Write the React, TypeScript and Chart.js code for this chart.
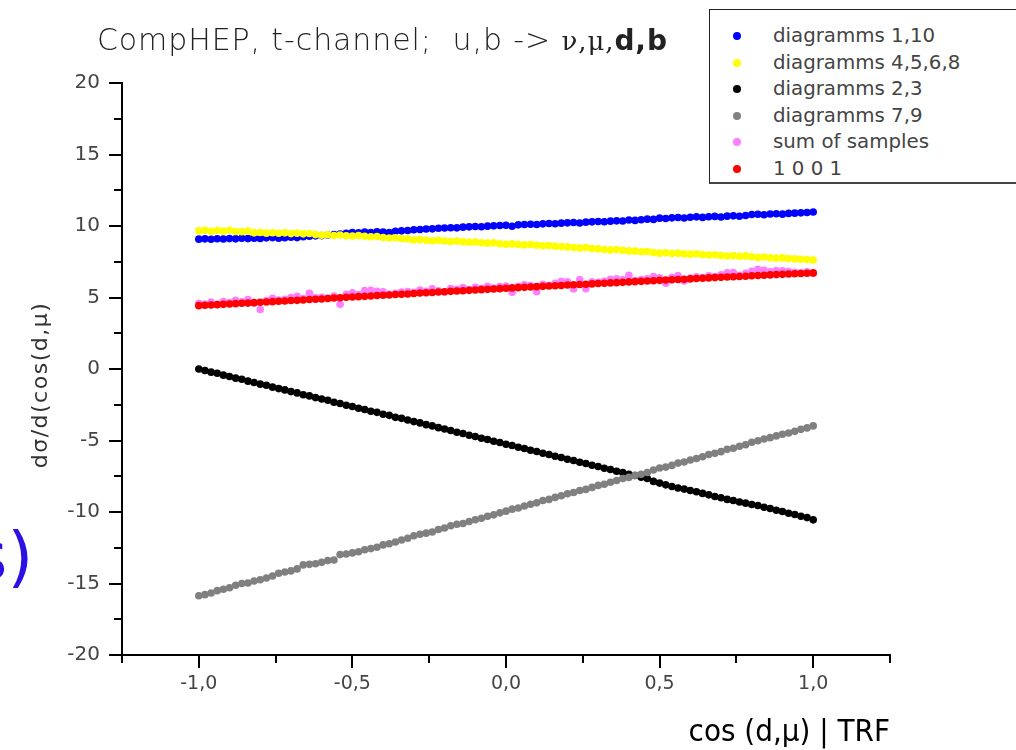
import React, { useEffect, useRef } from "react";
import { Chart, registerables } from "chart.js";

Chart.register(...registerables);

const cosDMu = [
  -1.0, -0.98, -0.96, -0.94, -0.92, -0.9, -0.88, -0.86, -0.84, -0.82,
  -0.8, -0.78, -0.76, -0.74, -0.72, -0.7, -0.68, -0.66, -0.64, -0.62,
  -0.6, -0.58, -0.56, -0.54, -0.52, -0.5, -0.48, -0.46, -0.44, -0.42,
  -0.4, -0.38, -0.36, -0.34, -0.32, -0.3, -0.28, -0.26, -0.24, -0.22,
  -0.2, -0.18, -0.16, -0.14, -0.12, -0.1, -0.08, -0.06, -0.04, -0.02,
  0.0, 0.02, 0.04, 0.06, 0.08, 0.1, 0.12, 0.14, 0.16, 0.18,
  0.2, 0.22, 0.24, 0.26, 0.28, 0.3, 0.32, 0.34, 0.36, 0.38,
  0.4, 0.42, 0.44, 0.46, 0.48, 0.5, 0.52, 0.54, 0.56, 0.58,
  0.6, 0.62, 0.64, 0.66, 0.68, 0.7, 0.72, 0.74, 0.76, 0.78,
  0.8, 0.82, 0.84, 0.86, 0.88, 0.9, 0.92, 0.94, 0.96, 0.98,
  1.0,
];

const diagramms1_10 = [
  9.08, 9.10, 9.07, 9.11, 9.09, 9.12, 9.10, 9.14, 9.12, 9.15,
  9.13, 9.17, 9.19, 9.15, 9.18, 9.21, 9.19, 9.25, 9.28, 9.31,
  9.33, 9.37, 9.41, 9.44, 9.49, 9.54, 9.52, 9.57, 9.55, 9.60,
  9.58, 9.54, 9.63, 9.66, 9.69, 9.74, 9.76, 9.79, 9.80, 9.84,
  9.86, 9.88, 9.87, 9.92, 9.94, 9.96, 9.95, 9.99, 10.01, 10.03,
  10.05, 9.98, 10.08, 10.10, 10.12, 10.11, 10.15, 10.17, 10.16, 10.20,
  10.22, 10.25, 10.21, 10.27, 10.29, 10.31, 10.30, 10.34, 10.36, 10.35,
  10.42, 10.39, 10.44, 10.48, 10.46, 10.55, 10.52, 10.57, 10.59, 10.56,
  10.61, 10.64, 10.60, 10.65, 10.67, 10.63, 10.69, 10.71, 10.68, 10.73,
  10.80, 10.82, 10.79, 10.84, 10.86, 10.83, 10.88, 10.90, 10.92, 10.94,
  10.98,
];

const diagramms4_5_6_8 = [
  9.66, 9.70, 9.63, 9.68, 9.64, 9.70, 9.62, 9.60, 9.64, 9.52,
  9.55, 9.50, 9.53, 9.49, 9.52, 9.47, 9.50, 9.45, 9.48, 9.40,
  9.36, 9.39, 9.34, 9.37, 9.32, 9.30, 9.33, 9.28, 9.25, 9.27,
  9.20, 9.16, 9.18, 9.13, 9.10, 9.02, 9.05, 9.00, 8.97, 9.00,
  8.95, 8.92, 8.94, 8.89, 8.86, 8.88, 8.83, 8.80, 8.82, 8.76,
  8.72, 8.75, 8.71, 8.68, 8.70, 8.65, 8.62, 8.64, 8.58, 8.56,
  8.54, 8.50, 8.47, 8.49, 8.42, 8.40, 8.36, 8.33, 8.35, 8.30,
  8.26, 8.24, 8.20, 8.22, 8.15, 8.10, 8.13, 8.08, 8.10, 8.05,
  8.03, 8.06, 8.00, 7.97, 7.99, 7.94, 7.90, 7.93, 7.88, 7.91,
  7.85, 7.80, 7.83, 7.78, 7.75, 7.77, 7.72, 7.70, 7.68, 7.66,
  7.62,
];

const diagramms2_3 = [
  0.00, -0.10, -0.22, -0.30, -0.43, -0.52, -0.64, -0.72, -0.85, -0.94,
  -1.06, -1.14, -1.27, -1.37, -1.46, -1.58, -1.67, -1.80, -1.88, -2.00,
  -2.10, -2.19, -2.33, -2.41, -2.53, -2.62, -2.74, -2.83, -2.95, -3.03,
  -3.16, -3.24, -3.38, -3.45, -3.57, -3.68, -3.77, -3.89, -3.98, -4.10,
  -4.20, -4.30, -4.42, -4.51, -4.63, -4.72, -4.84, -4.93, -5.05, -5.14,
  -5.26, -5.35, -5.47, -5.56, -5.68, -5.77, -5.89, -5.98, -6.10, -6.19,
  -6.31, -6.40, -6.52, -6.61, -6.73, -6.82, -6.94, -7.03, -7.15, -7.24,
  -7.36, -7.45, -7.57, -7.66, -7.86, -7.98, -8.10, -8.22, -8.32, -8.40,
  -8.50, -8.58, -8.70, -8.80, -8.92, -9.00, -9.12, -9.20, -9.30, -9.38,
  -9.48, -9.55, -9.67, -9.76, -9.88, -9.97, -10.09, -10.18, -10.30, -10.39,
  -10.55,
];

const diagramms7_9 = [
  -15.86, -15.78, -15.66, -15.50, -15.40, -15.30, -15.12, -15.00, -14.96, -14.82,
  -14.74, -14.62, -14.48, -14.28, -14.20, -14.12, -13.98, -13.70, -13.66, -13.62,
  -13.52, -13.40, -13.36, -12.98, -12.94, -12.86, -12.78, -12.64, -12.56, -12.46,
  -12.30, -12.22, -12.10, -11.96, -11.84, -11.66, -11.56, -11.48, -11.40, -11.22,
  -11.12, -10.96, -10.86, -10.80, -10.66, -10.54, -10.44, -10.30, -10.20, -10.06,
  -9.94, -9.80, -9.72, -9.58, -9.46, -9.36, -9.20, -9.12, -8.98, -8.86,
  -8.72, -8.64, -8.50, -8.42, -8.28, -8.14, -8.06, -7.92, -7.80, -7.66,
  -7.58, -7.44, -7.36, -7.24, -7.06, -6.92, -6.86, -6.74, -6.58, -6.50,
  -6.36, -6.26, -6.14, -5.98, -5.90, -5.78, -5.62, -5.54, -5.40, -5.30,
  -5.12, -5.02, -4.90, -4.80, -4.68, -4.56, -4.48, -4.36, -4.22, -4.12,
  -3.98,
];

const sumOfSamples = [
  4.60, 4.55, 4.68, 4.52, 4.72, 4.64, 4.80, 4.70, 4.85, 4.62,
  4.16, 4.78, 4.95, 4.82, 4.88, 4.99, 5.08, 4.92, 5.30, 4.98,
  5.02, 4.94, 5.10, 4.52, 5.22, 5.32, 5.20, 5.48, 5.50, 5.44,
  5.40, 5.24, 5.30, 5.38, 5.42, 5.36, 5.52, 5.44, 5.60, 5.46,
  5.38, 5.62, 5.58, 5.70, 5.55, 5.72, 5.64, 5.78, 5.66, 5.76,
  5.80, 5.36, 5.78, 5.88, 5.84, 5.40, 5.92, 5.86, 6.00, 6.14,
  6.10, 5.60, 6.26, 5.62, 6.10, 6.06, 6.14, 6.28, 6.30, 6.26,
  6.56, 6.18, 6.26, 6.30, 6.46, 6.38, 6.00, 6.42, 6.54, 6.16,
  6.36, 6.44, 6.40, 6.52, 6.46, 6.58, 6.72, 6.74, 6.56, 6.70,
  6.84, 6.98, 6.90, 6.80, 6.88, 6.86, 6.82, 6.76, 6.72, 6.80,
  6.70,
];

const samples1001 = [
  4.43, 4.46, 4.48, 4.50, 4.52, 4.55, 4.57, 4.60, 4.61, 4.64,
  4.67, 4.69, 4.71, 4.74, 4.76, 4.79, 4.80, 4.83, 4.86, 4.88,
  4.90, 4.93, 4.96, 4.98, 5.01, 5.04, 5.06, 5.08, 5.11, 5.14,
  5.16, 5.18, 5.21, 5.23, 5.25, 5.28, 5.31, 5.33, 5.35, 5.38,
  5.40, 5.43, 5.45, 5.47, 5.50, 5.52, 5.55, 5.57, 5.59, 5.62,
  5.65, 5.67, 5.69, 5.71, 5.73, 5.76, 5.78, 5.80, 5.82, 5.84,
  5.87, 5.89, 5.91, 5.93, 5.95, 5.98, 6.00, 6.02, 6.04, 6.06,
  6.09, 6.11, 6.13, 6.15, 6.17, 6.20, 6.22, 6.24, 6.26, 6.28,
  6.30, 6.33, 6.35, 6.37, 6.39, 6.41, 6.43, 6.45, 6.47, 6.49,
  6.52, 6.54, 6.56, 6.58, 6.60, 6.62, 6.64, 6.66, 6.68, 6.70,
  6.72,
];

const legendLabels = [
  "diagramms 1,10",
  "diagramms 4,5,6,8",
  "diagramms 2,3",
  "diagramms 7,9",
  "sum of samples",
  "1 0 0 1",
];
const seriesColors = ["#0000ff", "#ffff00", "#000000", "#808080", "#ff80ff", "#ff0000"];
const seriesValues = [
  diagramms1_10,
  diagramms4_5_6_8,
  diagramms2_3,
  diagramms7_9,
  sumOfSamples,
  samples1001,
];

const fmtX = (v: number) => {
  const r = Math.abs(v) < 1e-9 ? 0 : v;
  return r.toFixed(1).replace(".", ",");
};
const isMult = (v: number, s: number) => Math.abs(v / s - Math.round(v / s)) < 1e-6;

const tickMarks = {
  id: "tickMarks",
  afterDraw(chart: any) {
    const { ctx, chartArea, scales } = chart;
    const xs = scales.x;
    const ys = scales.y;
    ctx.save();
    ctx.strokeStyle = "#000";
    ctx.lineWidth = 2;
    ys.ticks.forEach((t: any) => {
      const py = Math.round(ys.getPixelForValue(t.value));
      const len = isMult(t.value, 5) ? 13 : 8;
      ctx.beginPath();
      ctx.moveTo(chartArea.left - len, py);
      ctx.lineTo(chartArea.left, py);
      ctx.stroke();
    });
    xs.ticks.forEach((t: any) => {
      const px = Math.round(xs.getPixelForValue(t.value));
      const len = isMult(t.value, 0.5) ? 13 : 8;
      ctx.beginPath();
      ctx.moveTo(px, chartArea.bottom);
      ctx.lineTo(px, chartArea.bottom + len);
      ctx.stroke();
    });
    ctx.restore();
  },
};

export default function App() {
  const canvasRef = useRef<HTMLCanvasElement | null>(null);

  useEffect(() => {
    const canvas = canvasRef.current;
    if (!canvas) return;
    const datasets = seriesValues.map((vals, k) => ({
      label: legendLabels[k],
      data: cosDMu.map((x, i) => ({ x, y: vals[i] })),
      backgroundColor: seriesColors[k],
      borderColor: seriesColors[k],
      pointRadius: 3.8,
      pointBorderWidth: 0,
      pointHoverRadius: 3.8,
      showLine: false,
      order: 5 - k,
    }));
    const chart = new Chart(canvas, {
      type: "scatter",
      data: { datasets },
      plugins: [tickMarks],
      options: {
        animation: false,
        responsive: false,
        devicePixelRatio: 1,
        events: [],
        layout: { padding: { left: 0, top: 83, right: 126, bottom: 0 } },
        plugins: {
          legend: { display: false },
          tooltip: { enabled: false },
          title: { display: false },
        },
        scales: {
          x: {
            type: "linear",
            min: -1.25,
            max: 1.25,
            afterFit: (s: any) => {
              s.height = 95;
            },
            grid: { display: false, drawTicks: false },
            border: { display: true, color: "#000", width: 2 },
            ticks: {
              stepSize: 0.25,
              autoSkip: false,
              maxRotation: 0,
              padding: 18,
              color: "#444",
              font: { family: "DejaVu Sans", size: 19 },
              callback: (v: any) => (isMult(Number(v), 0.5) ? fmtX(Number(v)) : ""),
            },
          },
          y: {
            type: "linear",
            min: -20,
            max: 20,
            afterFit: (s: any) => {
              s.width = 122;
            },
            grid: { display: false, drawTicks: false },
            border: { display: true, color: "#000", width: 2 },
            ticks: {
              stepSize: 2.5,
              autoSkip: false,
              padding: 22,
              color: "#444",
              font: { family: "DejaVu Sans", size: 20 },
              callback: (v: any) => (isMult(Number(v), 5) ? String(Math.round(Number(v))) : ""),
            },
          },
        },
      },
    } as any);
    return () => chart.destroy();
  }, []);

  return (
    <div
      style={{
        position: "fixed",
        left: 0,
        top: 0,
        width: 1016,
        height: 750,
        background: "#fff",
        overflow: "hidden",
        fontFamily: "DejaVu Sans",
      }}
    >
      <canvas ref={canvasRef} width={1016} height={750} style={{ position: "absolute", left: 0, top: 0 }} />
      <div
        style={{
          position: "absolute",
          left: 97,
          top: 22,
          fontSize: 30,
          letterSpacing: 0.9,
          color: "#222",
          whiteSpace: "pre",
          fontFamily: "DejaVu Sans",
          fontWeight: 200,
          lineHeight: "36px",
        }}
      >
        {"CompHEP, t-channel;  u,b -> "}
        <span style={{ fontFamily: "DejaVu Serif", fontSize: 26 }}>{"ν,μ,"}</span>
        <span style={{ fontWeight: 700, fontSize: 28 }}>{"d,b"}</span>
      </div>
      <div
        style={{
          position: "absolute",
          left: 39,
          top: 385,
          transform: "translate(-50%, -50%) rotate(-90deg)",
          fontSize: 22,
          letterSpacing: 1.5,
          color: "#333",
          whiteSpace: "nowrap",
        }}
      >
        dσ/d(cos(d,μ)
      </div>
      <div
        style={{
          position: "absolute",
          right: 126,
          top: 711,
          fontSize: 31,
          color: "#000",
          whiteSpace: "pre",
          fontFamily: "DejaVu Sans Condensed",
          lineHeight: "38px",
        }}
      >
        {"cos (d,μ) | TRF"}
      </div>
      <div
        style={{
          position: "absolute",
          left: -27,
          top: 524,
          fontSize: 66,
          lineHeight: 1,
          color: "#2c10e6",
          whiteSpace: "pre",
        }}
      >
        s)
      </div>
      <div
        style={{
          position: "absolute",
          left: 709,
          top: 9,
          width: 330,
          height: 172,
          border: "1px solid #222",
          borderBottom: "2px solid #444",
          background: "#fff",
        }}
      >
        {legendLabels.map((lab, k) => (
          <div
            key={lab}
            style={{
              position: "absolute",
              left: 0,
              top: 14 + k * 26.6,
              height: 24,
              display: "flex",
              alignItems: "center",
            }}
          >
            <span
              style={{
                display: "inline-block",
                width: 8,
                height: 8,
                borderRadius: 4,
                background: seriesColors[k],
                marginLeft: 23,
              }}
            />
            <span
              style={{
                marginLeft: 32,
                fontSize: 19.8,
                color: "#444",
                whiteSpace: "pre",
                lineHeight: "24px",
              }}
            >
              {lab}
            </span>
          </div>
        ))}
      </div>
    </div>
  );
}
